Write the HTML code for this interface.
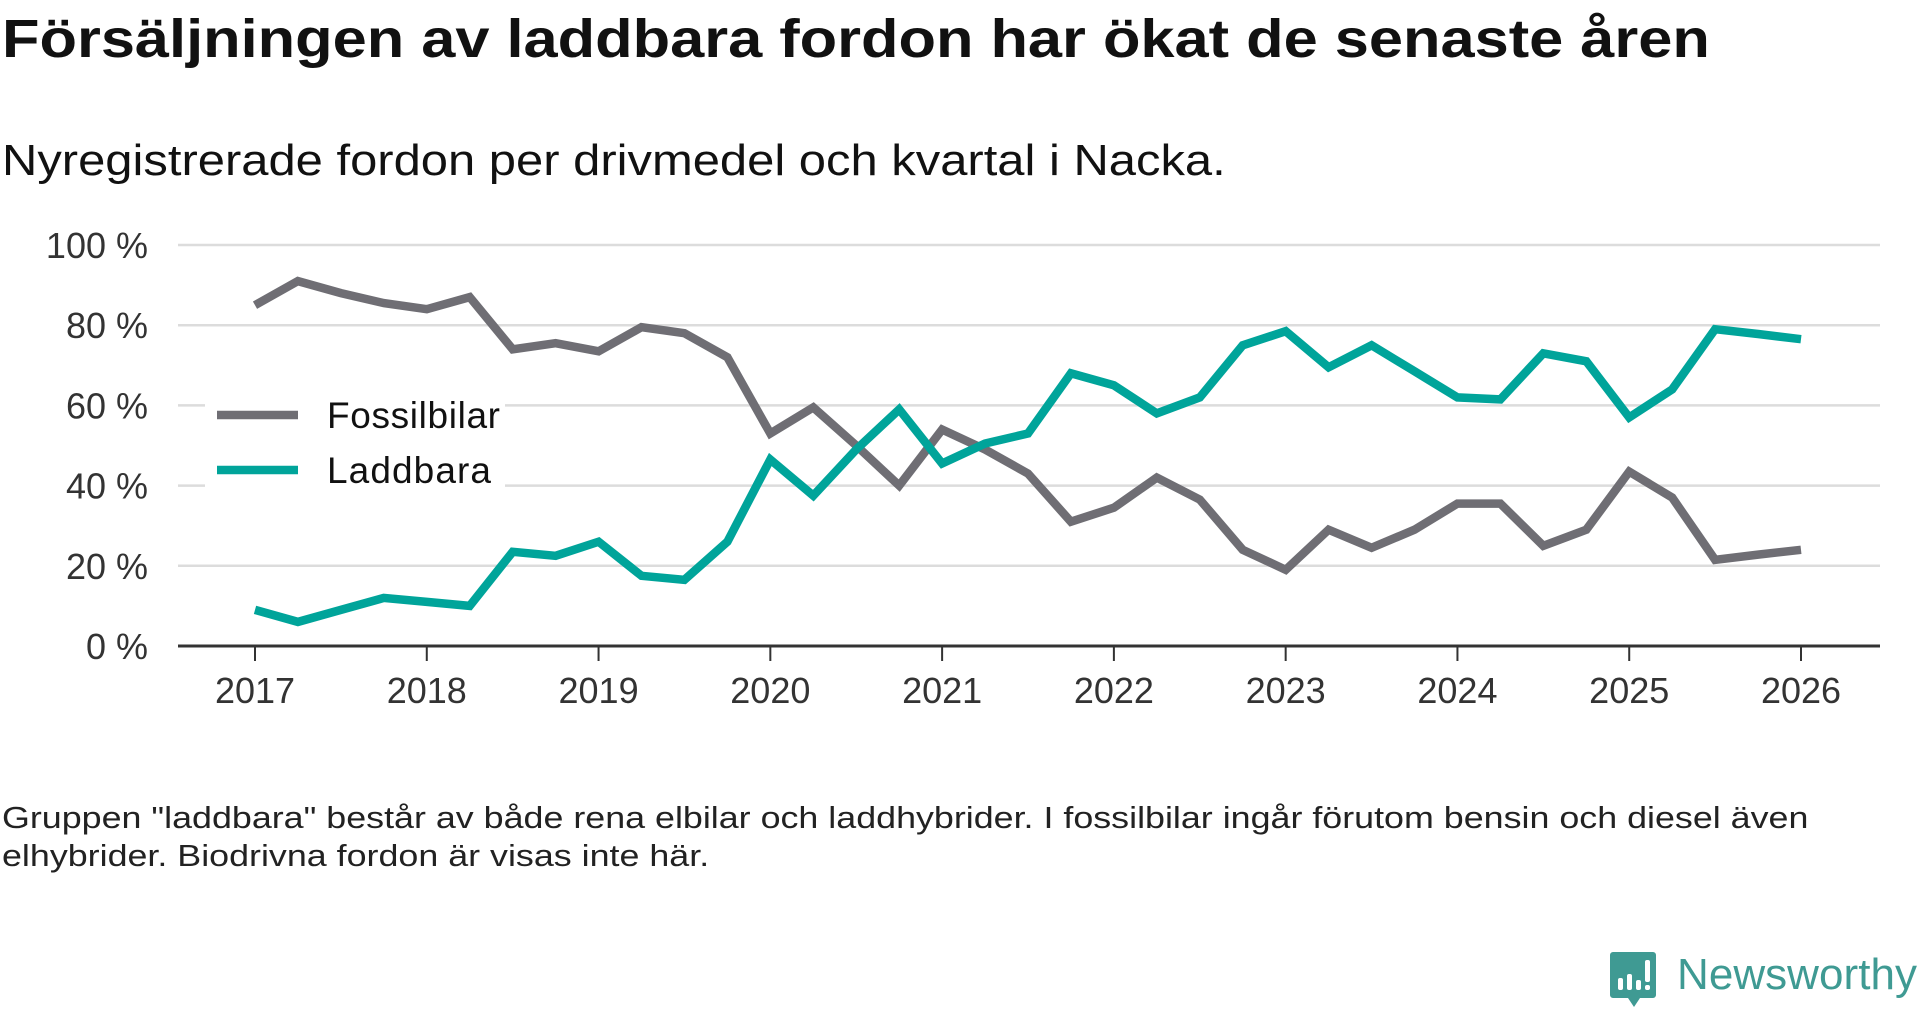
<!DOCTYPE html>
<html><head><meta charset="utf-8">
<style>
html,body{margin:0;padding:0;background:#fff;}
body{width:1920px;height:1010px;position:relative;overflow:hidden;font-family:"Liberation Sans",sans-serif;color:#111;}
#title{position:absolute;left:2px;top:8px;font-size:54px;font-weight:bold;margin:0;color:#111;transform:scaleX(1.136);transform-origin:left top;white-space:nowrap;}
#subtitle{position:absolute;left:2px;top:136px;font-size:44px;color:#111;transform:scaleX(1.112);transform-origin:left top;white-space:nowrap;}
#note{position:absolute;left:2px;top:799px;font-size:31px;line-height:38px;color:#222;white-space:nowrap;transform:scaleX(1.156);transform-origin:left top;}
#logo{position:absolute;left:1610px;top:950px;}
</style></head><body>
<h1 id="title">Försäljningen av laddbara fordon har ökat de senaste åren</h1>
<div id="subtitle">Nyregistrerade fordon per drivmedel och kvartal i Nacka.</div>
<svg id="chart" width="1920" height="760" style="position:absolute;left:0;top:0"></svg>
<div id="note">Gruppen "laddbara" består av både rena elbilar och laddhybrider. I fossilbilar ingår förutom bensin och diesel även<br>elhybrider. Biodrivna fordon är visas inte här.</div>
<svg id="logo" width="310" height="60">
<path d="M3 2h40a3 3 0 0 1 3 3v40a3 3 0 0 1-3 3H30l-6 9-6-9H3a3 3 0 0 1-3-3V5a3 3 0 0 1 3-3z" fill="#3f9a93"/>
<rect x="8" y="28" width="5" height="12" fill="#fff" rx="2"/><rect x="17" y="24" width="5" height="16" fill="#fff" rx="2"/><rect x="26" y="30" width="5" height="10" fill="#fff" rx="2"/><rect x="35" y="10" width="5" height="22" fill="#fff" rx="2"/><rect x="35" y="35" width="5" height="5" fill="#fff" rx="2"/>
<text x="67" y="39" font-size="44" fill="#3f9a93" font-family="Liberation Sans, sans-serif" textLength="240">Newsworthy</text>
</svg>
<script>
const years = [2017,2018,2019,2020,2021,2022,2023,2024,2025,2026];
const yTicks = [0,20,40,60,80,100];
const fossil = [85,91,88,85.5,84,87,74,75.5,73.5,79.5,78,72,53,59.5,50,40,54,49,43,31,34.5,42,36.5,24,19,29,24.5,29,35.5,35.5,25,29,43.5,37,21.5,22.8,24];
const laddbara = [9,6,9,12,11,10,23.5,22.5,26,17.5,16.5,26,46.5,37.5,49,59,45.5,50.5,53,68,65,58,62,75,78.5,69.5,75,68.5,62,61.5,73,71,57,64,79,77.8,76.5];
const NS='http://www.w3.org/2000/svg';
const svg=document.getElementById('chart');
const x0=255,x1=1801,yb=646,yt=245;
const X=t=>x0+(t-2017)/(2026-2017)*(x1-x0);
const Y=v=>yb-v/100*(yb-yt);
function mk(tag,attrs){const e=document.createElementNS(NS,tag);for(const k in attrs)e.setAttribute(k,attrs[k]);svg.appendChild(e);return e;}
yTicks.forEach(v=>{
  if(v>0){const g=mk('line',{x1:178,x2:1880,y1:Y(v),y2:Y(v),stroke:'#dcdcdc','stroke-width':2.5});
  
  }
  const t=mk('text',{x:148,y:Y(v)+13,'text-anchor':'end','font-size':36,fill:'#333','font-family':'Liberation Sans, sans-serif'});
  t.textContent=v+' %';
  
  
});
const ax=mk('line',{x1:178,x2:1880,y1:yb,y2:yb,stroke:'#333','stroke-width':3});


years.forEach(yr=>{
  const tk=mk('line',{x1:X(yr),x2:X(yr),y1:yb,y2:yb+15,stroke:'#333','stroke-width':2});
  
  
  const t=mk('text',{x:X(yr),y:703,'text-anchor':'middle','font-size':36,fill:'#333','font-family':'Liberation Sans, sans-serif'});
  t.textContent=yr;
  
  
});
const leg=mk('rect',{x:205,y:385,width:300,height:110,fill:'#fff'});


function series(vals,color,name){
  const pts=vals.map((v,i)=>X(2017+i/4).toFixed(1)+','+Y(v).toFixed(1)).join(' ');
  const p=mk('polyline',{points:pts,fill:'none',stroke:color,'stroke-width':8.5,'stroke-linejoin':'miter'});
  
  
}
series(fossil,'#6f6e74','fossilbilar-line');
series(laddbara,'#00a49a','laddbara-line');
[['Fossilbilar','#6f6e74',415,173],['Laddbara','#00a49a',470,164]].forEach(([lab,c,y,w])=>{
  const l=mk('line',{x1:217,x2:298,y1:y,y2:y,stroke:c,'stroke-width':8.5});
  
  
  const t=mk('text',{x:327,y:y+13,'font-size':37,fill:'#111','font-family':'Liberation Sans, sans-serif',textLength:w});
  t.textContent=lab;
  
  
});
</script>
</body></html>
